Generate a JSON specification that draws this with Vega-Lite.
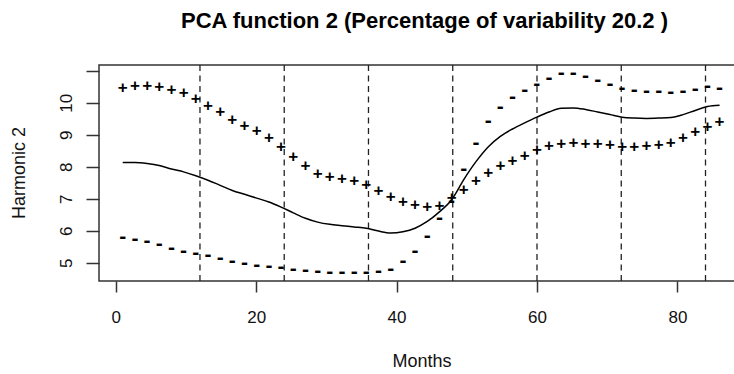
{
  "$schema": "https://vega.github.io/schema/vega-lite/v6.json",
  "width": 636,
  "height": 216,
  "autosize": {"type": "none"},
  "padding": {"left": 99, "top": 65, "right": 0, "bottom": 93},
  "background": "white",
  "title": {
    "text": "PCA function 2 (Percentage of variability 20.2 )",
    "font": "Liberation Sans",
    "fontSize": 22,
    "fontWeight": "bold",
    "color": "#000",
    "anchor": "middle",
    "dx": 7.5,
    "baseline": "alphabetic",
    "offset": 12
  },
  "config": {
    "view": {"stroke": "#333", "strokeWidth": 1.5},
    "axis": {
      "grid": false,
      "domain": false,
      "tickColor": "#333",
      "tickWidth": 1.5,
      "labelFont": "Liberation Sans",
      "titleFont": "Liberation Sans",
      "labelColor": "#111",
      "titleColor": "#111",
      "titleFontWeight": "normal",
      "labelOverlap": false
    }
  },
  "datasets": {
    "pca": [
      {"month": 1.00, "plus": 10.45, "minus": 5.80, "mean": 8.13},
      {"month": 2.73, "plus": 10.52, "minus": 5.74, "mean": 8.13},
      {"month": 4.47, "plus": 10.52, "minus": 5.68, "mean": 8.10},
      {"month": 6.20, "plus": 10.49, "minus": 5.58, "mean": 8.04},
      {"month": 7.94, "plus": 10.41, "minus": 5.45, "mean": 7.93},
      {"month": 9.67, "plus": 10.31, "minus": 5.37, "mean": 7.84},
      {"month": 11.41, "plus": 10.12, "minus": 5.31, "mean": 7.72},
      {"month": 13.14, "plus": 9.91, "minus": 5.24, "mean": 7.58},
      {"month": 14.88, "plus": 9.70, "minus": 5.14, "mean": 7.42},
      {"month": 16.61, "plus": 9.47, "minus": 5.05, "mean": 7.26},
      {"month": 18.35, "plus": 9.28, "minus": 4.99, "mean": 7.14},
      {"month": 20.08, "plus": 9.11, "minus": 4.92, "mean": 7.02},
      {"month": 21.82, "plus": 8.90, "minus": 4.90, "mean": 6.90},
      {"month": 23.55, "plus": 8.62, "minus": 4.86, "mean": 6.74},
      {"month": 25.29, "plus": 8.30, "minus": 4.82, "mean": 6.56},
      {"month": 27.02, "plus": 8.01, "minus": 4.77, "mean": 6.39},
      {"month": 28.76, "plus": 7.78, "minus": 4.75, "mean": 6.27},
      {"month": 30.49, "plus": 7.68, "minus": 4.72, "mean": 6.20},
      {"month": 32.22, "plus": 7.61, "minus": 4.70, "mean": 6.16},
      {"month": 33.96, "plus": 7.54, "minus": 4.70, "mean": 6.12},
      {"month": 35.69, "plus": 7.44, "minus": 4.72, "mean": 6.08},
      {"month": 37.43, "plus": 7.23, "minus": 4.75, "mean": 5.99},
      {"month": 39.16, "plus": 7.05, "minus": 4.80, "mean": 5.93},
      {"month": 40.90, "plus": 6.89, "minus": 5.05, "mean": 5.97},
      {"month": 42.63, "plus": 6.79, "minus": 5.37, "mean": 6.08},
      {"month": 44.37, "plus": 6.74, "minus": 5.84, "mean": 6.29},
      {"month": 46.10, "plus": 6.76, "minus": 6.41, "mean": 6.59},
      {"month": 47.84, "plus": 7.02, "minus": 6.92, "mean": 6.97},
      {"month": 49.57, "plus": 7.26, "minus": 7.94, "mean": 7.60},
      {"month": 51.31, "plus": 7.57, "minus": 8.74, "mean": 8.16},
      {"month": 53.04, "plus": 7.82, "minus": 9.42, "mean": 8.62},
      {"month": 54.78, "plus": 8.03, "minus": 9.87, "mean": 8.95},
      {"month": 56.51, "plus": 8.19, "minus": 10.17, "mean": 9.18},
      {"month": 58.24, "plus": 8.34, "minus": 10.39, "mean": 9.37},
      {"month": 59.98, "plus": 8.51, "minus": 10.59, "mean": 9.55},
      {"month": 61.71, "plus": 8.64, "minus": 10.78, "mean": 9.71},
      {"month": 63.45, "plus": 8.72, "minus": 10.94, "mean": 9.83},
      {"month": 65.18, "plus": 8.74, "minus": 10.94, "mean": 9.84},
      {"month": 66.92, "plus": 8.72, "minus": 10.85, "mean": 9.79},
      {"month": 68.65, "plus": 8.71, "minus": 10.71, "mean": 9.71},
      {"month": 70.39, "plus": 8.67, "minus": 10.59, "mean": 9.63},
      {"month": 72.12, "plus": 8.62, "minus": 10.47, "mean": 9.55},
      {"month": 73.86, "plus": 8.62, "minus": 10.41, "mean": 9.52},
      {"month": 75.59, "plus": 8.64, "minus": 10.38, "mean": 9.51},
      {"month": 77.33, "plus": 8.67, "minus": 10.36, "mean": 9.52},
      {"month": 79.06, "plus": 8.74, "minus": 10.34, "mean": 9.54},
      {"month": 80.80, "plus": 8.90, "minus": 10.36, "mean": 9.63},
      {"month": 82.53, "plus": 9.08, "minus": 10.44, "mean": 9.76},
      {"month": 84.27, "plus": 9.24, "minus": 10.52, "mean": 9.88},
      {"month": 86.00, "plus": 9.39, "minus": 10.45, "mean": 9.92}
    ],
    "vlines": [
      {"v": 12}, {"v": 24}, {"v": 36}, {"v": 48}, {"v": 60}, {"v": 72}, {"v": 84}
    ]
  },
  "layer": [
    {
      "data": {"name": "vlines"},
      "mark": {"type": "rule", "color": "#222", "strokeWidth": 1.3, "strokeDash": [6, 4.5]},
      "encoding": {
        "x": {
          "field": "v",
          "type": "quantitative",
          "title": "Months",
          "scale": {"domain": [-2.38, 88.2], "nice": false, "zero": false},
          "axis": {
            "values": [0, 20, 40, 60, 80],
            "format": "d",
            "tickCount": 10,
            "tickSize": 11,
            "labelFontSize": 17,
            "labelBaseline": "top",
            "labelPadding": 17.5,
            "titleFontSize": 18,
            "titleX": 322.5,
            "titleY": 80,
            "titleAlign": "center",
            "titleBaseline": "middle"
          }
        }
      }
    },
    {
      "data": {"name": "pca"},
      "mark": {"type": "line", "color": "#000", "strokeWidth": 1.5, "interpolate": "monotone"},
      "encoding": {
        "x": {"field": "month", "type": "quantitative", "title": "Months"},
        "y": {
          "field": "mean",
          "type": "quantitative",
          "title": "Harmonic 2",
          "scale": {"domain": [4.43, 11.18], "nice": false, "zero": false},
          "axis": {
            "values": [5, 6, 7, 8, 9, 10, 11],
            "format": "d",
            "tickCount": 12,
            "labelExpr": "datum.value > 10.5 ? '' : datum.label",
            "labelOverlap": false,
            "labelBound": false,
            "labelFlush": false,
            "tickSize": 13,
            "labelAngle": -90,
            "labelAlign": "center",
            "labelBaseline": "middle",
            "labelPadding": 20,
            "labelFontSize": 17,
            "titleFontSize": 18,
            "titleAngle": -90,
            "titleX": -79.5,
            "titleY": 107.5,
            "titleAlign": "center",
            "titleBaseline": "middle"
          }
        }
      }
    },
    {
      "data": {"name": "pca"},
      "mark": {"type": "text", "text": "+", "font": "Liberation Sans", "fontSize": 17, "fontWeight": "bold", "color": "#000", "align": "center", "baseline": "middle"},
      "encoding": {
        "x": {"field": "month", "type": "quantitative", "title": "Months"},
        "y": {"field": "plus", "type": "quantitative", "title": "Harmonic 2"}
      }
    },
    {
      "data": {"name": "pca"},
      "mark": {"type": "text", "text": "-", "font": "Liberation Sans", "fontSize": 21, "fontWeight": "bold", "color": "#000", "align": "center", "baseline": "middle"},
      "encoding": {
        "x": {"field": "month", "type": "quantitative", "title": "Months"},
        "y": {"field": "minus", "type": "quantitative", "title": "Harmonic 2"}
      }
    }
  ]
}
